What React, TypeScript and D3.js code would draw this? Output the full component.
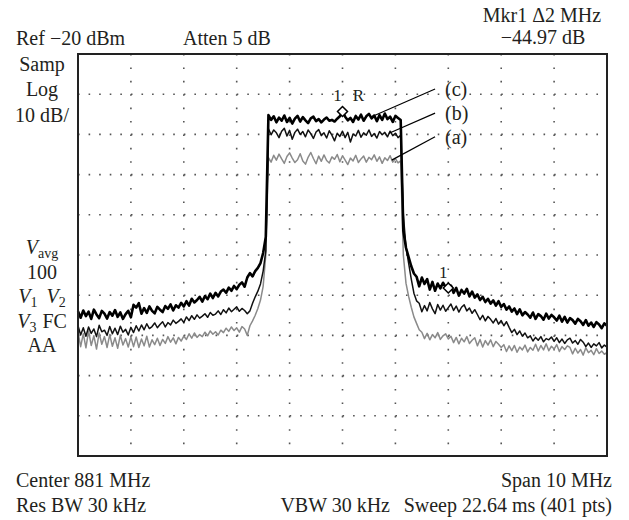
import * as d3 from 'd3';

// sweep: -5 .. +5 MHz around 881 MHz, one value every 0.05 MHz
const START_MHZ = -5;
const STEP_MHZ = 0.05;

// (c) thick black trace, dBm
const traceC = [
  -84.0, -85.6, -83.8, -85.2, -84.1, -85.9, -83.6, -84.8, -85.7, -83.9, -84.6, -85.8, -84.2, -85.1, -83.7, -85.4, -84.3, -85.9, -84.7, -83.9, -85.5,
  -82.4, -83.1, -82.0,
  -84.6, -83.2, -84.4, -82.8, -83.9, -84.5, -82.9, -83.6, -84.2, -82.7, -83.4, -82.3, -83.8, -82.5, -83.1, -81.9, -82.8,
  -81.5, -82.6, -80.9, -81.8, -81.2, -80.4, -81.6, -80.2, -81.0, -79.6, -80.7, -79.4, -80.3, -79.1,
  -78.6, -79.4, -78.1, -78.9, -77.7, -78.5, -77.4, -76.8, -77.9,
  -75.6, -74.5, -75.3, -74.0, -73.2,
  -72.0, -69.5, -65.5,
  -35.2, -36.4, -35.5, -37.0, -35.8, -36.6, -35.3, -36.9, -35.9, -37.3, -36.1, -35.4, -36.8, -35.7, -36.5, -37.2, -36.0, -35.6, -36.7, -36.2,
  -37.0, -36.3, -35.8, -36.6, -36.4, -36.8, -36.1, -35.5, -34.3, -35.6, -36.5, -35.9, -36.9, -35.4, -36.3, -35.1, -36.6, -35.5, -34.9, -36.0,
  -35.3, -36.7, -35.2, -36.4, -34.8, -36.2, -35.6, -36.9, -35.4, -35.9, -36.4,
  -64.0, -68.2, -70.5, -72.8, -74.6, -75.4,
  -77.8, -75.6, -77.2, -76.0,
  -78.6, -76.7, -78.9, -77.1, -78.3, -76.9, -78.0,
  -78.2,
  -77.6, -79.4, -78.2, -80.1, -78.7, -79.6, -78.4, -80.3, -79.1, -80.6,
  -79.8, -81.2, -80.4, -81.7, -80.9, -82.1, -81.3, -82.6, -81.5, -82.9,
  -82.2, -83.6, -82.8, -84.1, -83.3, -84.7, -83.5, -85.0, -84.2, -84.8,
  -85.6, -84.3, -85.9, -84.7, -85.2, -86.1, -84.6, -85.8, -84.9, -85.5,
  -86.3, -85.1, -86.6, -85.4, -86.8, -85.7, -86.2, -87.1, -85.9, -86.5,
  -87.4, -86.2, -87.6, -86.8, -87.9, -86.7, -87.3, -88.2, -87.0, -87.6,
];

// (b) thin black trace
const traceB = [
  -87.6, -89.9, -88.1, -90.2, -87.9, -89.5, -88.4, -90.3, -87.5, -89.1, -88.7, -90.0, -87.8, -89.6, -88.2, -89.8, -87.7, -89.2, -88.5, -89.9, -88.0,
  -89.3, -87.6, -88.9, -87.4, -88.6, -87.1, -88.3, -87.8, -86.9, -88.1, -87.3, -86.6, -87.9, -86.8, -87.4, -86.2, -87.0, -86.5, -85.9,
  -86.8, -85.4, -86.3, -85.1, -86.0, -84.9, -85.7, -85.2, -84.6, -85.5, -84.3, -85.0, -84.7, -83.9, -84.8,
  -83.6, -84.4, -83.2, -84.1, -83.5, -82.9, -84.0, -83.3, -83.8,
  -84.6, -83.9,
  -82.0, -80.4, -79.0, -77.2, -74.0, -69.0,
  -38.6, -40.1, -38.9, -39.6, -40.8, -39.2, -38.5, -40.4, -39.0, -41.2, -39.5, -38.7, -40.0, -39.3, -40.6, -38.9, -39.8, -41.0, -39.4, -38.8,
  -40.3, -39.6, -40.9, -39.1, -40.2, -41.6, -39.7, -40.5, -39.2, -40.8, -39.5, -41.9, -39.9, -40.4, -39.0, -40.7, -39.6, -40.2, -38.9, -40.5,
  -39.8, -40.9, -39.3, -40.1, -39.5, -40.6, -39.2, -40.3, -39.7, -40.8, -40.2,
  -60.0, -68.0, -72.0, -76.0, -79.5, -81.4,
  -82.0, -84.1, -82.6, -83.9, -81.8, -83.4, -84.6, -82.3, -83.7, -82.5, -84.0, -83.1,
  -82.2, -83.8, -82.7, -84.2, -83.0, -82.4, -83.9, -83.2, -84.5, -83.6,
  -84.8, -86.1, -85.0, -86.4, -85.3, -86.0,
  -86.9, -85.8, -87.2, -86.3, -87.6, -86.6,
  -88.0, -89.3, -88.5, -89.8, -88.9, -90.2, -89.4, -90.6,
  -90.1, -91.4, -90.5, -91.2, -90.3, -91.6, -90.8, -91.1, -90.4, -91.5,
  -90.6, -91.8, -90.9, -92.0, -91.1, -90.7, -91.9, -91.3, -92.2, -91.0,
  -91.7, -92.8, -91.9, -93.0, -92.1, -92.6, -91.8, -93.1, -92.4, -92.9,
];

// (a) grey trace
const traceA = [
  -89.2, -92.8, -89.6, -93.1, -88.9, -92.5, -90.1, -93.4, -89.4, -92.2, -90.3, -93.0, -89.8, -92.7, -90.6, -93.2, -90.0, -92.4, -90.8, -92.9, -90.4,
  -92.8, -90.4, -93.0, -90.9, -92.6, -90.2, -92.9, -91.1, -92.3, -90.7, -92.5, -91.0,
  -92.0, -90.3, -91.7, -90.6, -92.1, -90.5, -91.4, -90.2,
  -91.0, -89.6, -90.7, -89.4, -90.5, -89.8, -90.3, -89.2, -90.1, -88.9, -89.7, -89.1, -89.9, -88.7,
  -89.3, -88.2, -89.0, -87.9, -88.8, -88.1, -89.2, -87.8, -88.4,
  -90.0, -87.6, -86.4, -85.0, -83.3, -81.2, -77.8, -70.0,
  -45.8, -46.9, -45.2, -46.4, -44.9, -46.1, -47.2, -45.5, -44.6, -45.9, -47.0, -46.3, -44.8, -46.6, -47.4, -45.7, -44.5, -46.0, -47.3, -45.4,
  -46.7, -45.1, -46.5, -47.1, -45.6, -46.2, -45.0, -46.8, -45.3, -46.4, -47.5, -45.9, -46.6, -45.2, -47.0, -46.1, -45.4, -46.9, -45.7, -46.3,
  -45.1, -46.7, -45.6, -47.2, -45.8, -46.5, -45.3, -46.9, -46.0, -47.1, -46.6,
  -70.0, -77.0, -80.3, -83.0, -85.4, -87.0, -88.6,
  -89.2, -90.8, -89.5, -91.1, -89.8, -90.6, -89.3, -91.0, -90.1, -89.6, -90.9,
  -90.2, -91.8, -90.5, -92.1, -90.7, -91.6, -90.3, -92.0, -91.2, -90.6,
  -92.6, -91.0, -92.9, -91.3, -92.4, -91.1, -92.8, -91.5, -92.2, -93.0,
  -92.3, -94.0, -92.6, -93.8, -92.5, -94.2, -92.9, -93.6, -92.4, -94.1, -93.0, -93.7,
  -92.2, -93.9, -92.5, -93.6, -92.1, -93.8, -92.7, -93.4, -92.3, -94.0, -92.8, -93.5, -92.6,
  -93.0, -94.6, -93.2, -94.4, -93.5, -94.9, -93.1, -94.3, -93.7, -94.8, -93.3, -94.5, -93.9, -94.7, -94.2,
];

const freqs = traceA.map((_, i) => START_MHZ + i * STEP_MHZ);

// markers on trace (c): reference marker at centre, delta marker at +2 MHz
const markerFreqs = [0, 2];
const markerTags = ['R', ''];

// leader lines: [label, trace point (MHz, dB), label end (MHz, dB)]
const traceLabels: [string, number, number, number, number][] = [
  ['(c)', 0.55, -35.6, 1.75, -28.7],
  ['(b)', 0.88, -39.7, 1.75, -34.7],
  ['(a)', 0.93, -46.4, 1.75, -40.6],
];

const W = 629;
const H = 520;
const L = 78, R = 607, T = 54, B = 456;
const FONT = '"Liberation Serif", "DejaVu Serif", serif';
const INK = '#231f20';

export default function App() {
  const x = d3.scaleLinear().domain([-5, 5]).range([L, R]);
  const y = d3.scaleLinear().domain([-120, -20]).range([B, T]);
  const line = d3.line<number>().x((_, i) => x(freqs[i])).y((d) => y(d));

  const xDiv = (R - L) / 10;
  const yDiv = (B - T) / 10;
  const xGrid = d3.range(-4, 5, 1);
  const yGrid = d3.range(-110, -20, 10);

  const markerIdx = markerFreqs.map((f) => d3.bisectLeft(freqs, f - 1e-6));

  const leftCol: [number, JSX.Element][] = [
    [71, <>Samp</>],
    [96, <>Log</>],
    [122, <>10 dB/</>],
    [254, <><tspan fontStyle="italic">V</tspan><tspan fontSize={14} dy={4}>avg</tspan></>],
    [279, <>100</>],
    [303, <><tspan fontStyle="italic">V</tspan><tspan fontSize={14} dy={4}>1</tspan><tspan fontStyle="italic" dx={9} dy={-4}>V</tspan><tspan fontSize={14} dy={4}>2</tspan></>],
    [328, <><tspan fontStyle="italic">V</tspan><tspan fontSize={14} dy={4}>3</tspan><tspan dx={6} dy={-4}>FC</tspan></>],
    [352, <>AA</>],
  ];

  return (
    <svg width={W} height={H} style={{ position: 'absolute', left: 0, top: 0, background: '#fff' }} fontFamily={FONT} fill={INK}>
      {/* dotted graticule */}
      <g stroke="#555" strokeWidth={1.6}>
        {yGrid.map((v) => (
          <line key={'h' + v} x1={L} x2={R} y1={y(v)} y2={y(v)} strokeDasharray={`1.6 ${xDiv / 5 - 1.6}`} />
        ))}
        {xGrid.map((v) => (
          <line key={'v' + v} x1={x(v)} x2={x(v)} y1={T} y2={B} strokeDasharray={`1.6 ${yDiv / 3 - 1.6}`} />
        ))}
      </g>

      {/* traces */}
      <path d={line(traceA) ?? ''} fill="none" stroke="#8a8a8a" strokeWidth={1.5} strokeLinejoin="round" />
      <path d={line(traceB) ?? ''} fill="none" stroke="#111" strokeWidth={1.5} strokeLinejoin="round" />
      <path d={line(traceC) ?? ''} fill="none" stroke="#000" strokeWidth={2.6} strokeLinejoin="round" />

      {/* markers */}
      {markerIdx.map((idx, k) => {
        const mx = x(freqs[idx]);
        const my = y(traceC[idx]);
        return (
          <g key={'m' + k}>
            <path d={`M${mx},${my - 5}L${mx + 5},${my}L${mx},${my + 5}L${mx - 5},${my}Z`} fill="#fff" stroke="#000" strokeWidth={1.5} />
            <text x={mx - 5} y={my - 10} fontSize={17} textAnchor="middle">1</text>
            {markerTags[k] && (
              <text x={mx + 16} y={my - 10} fontSize={17} textAnchor="middle">{markerTags[k]}</text>
            )}
          </g>
        );
      })}

      {/* trace labels */}
      {traceLabels.map(([name, f0, d0, f1, d1]) => (
        <g key={name}>
          <line x1={x(f0)} y1={y(d0)} x2={x(f1)} y2={y(d1)} stroke="#000" strokeWidth={1.2} />
          <text x={x(f1) + 10} y={y(d1) + 7} fontSize={20}>{name}</text>
        </g>
      ))}

      {/* frame */}
      <rect x={L} y={T} width={R - L} height={B - T} fill="none" stroke="#222" strokeWidth={2} />

      {/* annotations */}
      <g fontSize={20}>
        <text x={16} y={45}>Ref −20 dBm</text>
        <text x={183} y={45}>Atten 5 dB</text>
        <text x={542} y={22} textAnchor="middle">Mkr1 Δ2 MHz</text>
        <text x={543} y={44} textAnchor="middle">−44.97 dB</text>
        {leftCol.map(([ty, content], i) => (
          <text key={'l' + i} x={42} y={ty} textAnchor="middle">{content}</text>
        ))}
        <text x={16} y={487}>Center 881 MHz</text>
        <text x={16} y={512}>Res BW 30 kHz</text>
        <text x={390} y={512} textAnchor="end">VBW 30 kHz</text>
        <text x={612} y={487} textAnchor="end">Span 10 MHz</text>
        <text x={612} y={512} textAnchor="end">Sweep 22.64 ms (401 pts)</text>
      </g>
    </svg>
  );
}
